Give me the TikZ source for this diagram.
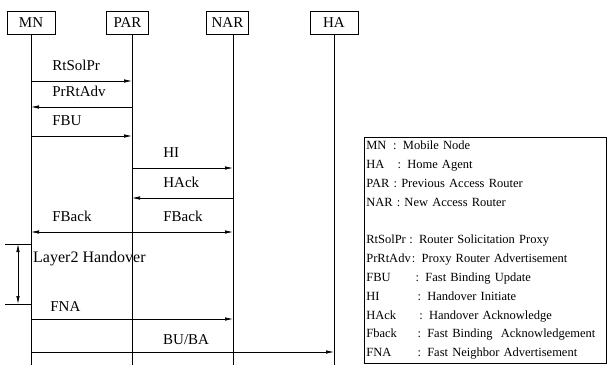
\documentclass[tikz,border=0pt]{standalone}
\usepackage{fontspec}
\setmainfont{Liberation Serif}
\usetikzlibrary{arrows.meta}

\begin{document}
\begin{tikzpicture}[x=1pt,y=-1pt,
  entity/.style={draw,line width=0.6pt,minimum width=48pt,minimum height=23pt,inner sep=1pt,font=\fontsize{15}{15}\selectfont},
  lifeline/.style={line width=0.6pt},
  msg/.style={line width=0.7pt,-{Latex[length=8pt,width=3.5pt]}},
  lbl/.style={font=\fontsize{15}{15}\selectfont,anchor=base west,inner sep=0pt,yshift=11pt}]
  \useasboundingbox (0,0) rectangle (611,368);
  %entities
  \node[entity] (mn) at (31,22.5) {MN};
  \node[entity,minimum width=42pt] (par) at (127.5,22.5) {PAR};
  \node[entity,minimum width=42pt] (nar) at (227.5,22.5) {NAR};
  \node[entity] (ha) at (334,22.5) {HA};
  %lifelines
  \foreach \e/\x in {mn/31,par/132,nar/233,ha/334}
    \draw[lifeline] (\x,0 |- \e.south) -- (\x,365);
  %messages
  \draw[msg] (mn |- 0,81) -- node[lbl,pos=0,xshift=21pt]{RtSolPr} (132,81);
  \draw[msg] (132,107) -- node[lbl,pos=1,xshift=21pt]{PrRtAdv} (mn |- 0,107);
  \draw[msg] (mn |- 0,136) -- node[lbl,pos=0,xshift=21pt]{FBU} (132,136);
  \draw[msg] (132,168) -- node[lbl,pos=0,xshift=31pt]{HI} (233,168);
  \draw[msg] (233,198) -- node[lbl,pos=1,xshift=31pt]{HAck} (132,198);
  \draw[msg] (132,232) -- node[lbl,pos=1,xshift=21pt]{FBack} (mn |- 0,232);
  \draw[msg] (132,232) -- node[lbl,pos=0,xshift=31pt]{FBack} (233,232);
  %layer 2 handover
  \coordinate (l2top) at (5,244);
  \coordinate (l2bot) at (5,304);
  \draw[lifeline] (l2top) -- (mn |- l2top);
  \draw[lifeline] (l2bot) -- (mn |- l2bot);
  \draw[line width=0.7pt,{Latex[length=8pt,width=3.5pt]}-{Latex[length=8pt,width=3.5pt]}] (18,244) -- (18,304);
  \node[lbl,anchor=west,yshift=0pt,xshift=2pt,font=\fontsize{16}{16}\selectfont] (l2) at (mn |- 0,270) {Layer2 Handover};
  \draw[msg] (mn |- 0,319) -- node[lbl,pos=0,xshift=19pt,yshift=-3pt]{FNA} (233,319);
  \draw[msg] (mn |- 0,352) -- (ha |- 0,352);
  \node[lbl,xshift=31pt,yshift=-3pt] (bu) at (132,352) {BU/BA};
  %legend
  \node[draw,line width=0.6pt,anchor=north west,text width=238pt,minimum height=226pt,inner sep=2pt,align=left,font=\fontsize{12.5}{18.8}\selectfont] (legend) at (364,137) {%
    \makebox[2.15em][l]{MN}: Mobile Node\\
    \makebox[2.5em][l]{HA}: Home Agent\\
    PAR : Previous Access Router\\
    NAR : New Access Router\\
    \mbox{}\\
    \makebox[3.45em][l]{RtSolPr}: Router Solicitation Proxy\\
    \makebox[3.65em][l]{PrRtAdv}: Proxy Router Advertisement\\
    \makebox[3.95em][l]{FBU}: Fast Binding Update\\
    \makebox[4.1em][l]{HI}: Handover Initiate\\
    \makebox[4.25em][l]{HAck}: Handover Acknowledge\\
    \makebox[4.1em][l]{Fback}: Fast Binding\ \ Acknowledgement\\
    \makebox[4.1em][l]{FNA}: Fast Neighbor Advertisement};
\end{tikzpicture}
\end{document}
